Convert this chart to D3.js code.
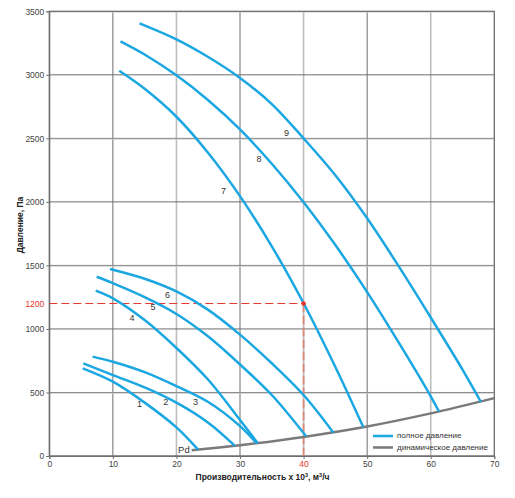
<!DOCTYPE html>
<html><head><meta charset="utf-8">
<script src="https://cdn.jsdelivr.net/npm/d3@7"></script>
<style>body{margin:0;background:#fff}svg{display:block;font-family:"Liberation Sans",Arial,sans-serif}</style>
</head><body><svg id="c" width="515" height="498"></svg>
<script>
const xTicks = [0,10,20,30,40,50,60,70];
const yTicks = [0,500,1000,1500,2000,2500,3000,3500];
const curveNames = ["1","2","3","4","5","6","7","8","9"];
const curve1 = [[5.25,690],[10,585],[15,420],[20,225],[23.4,50]];
const curve2 = [[5.35,729],[10,637],[15,540],[20,420],[25,262],[29.2,80]];
const curve3 = [[6.8,782],[10,742],[15,660],[20,550],[25,425],[30,235],[32.6,100]];
const curve4 = [[7.3,1301],[10,1241],[15,1070],[20,850],[25,600],[30,283],[32.8,100]];
const curve5 = [[7.45,1411],[10,1360],[15,1250],[20,1118],[25,940],[30,720],[35,480],[40.4,155]];
const curve6 = [[9.55,1472],[15,1395],[20,1295],[25,1150],[30,955],[35,730],[40,480],[44.7,183]];
const curve7 = [[11,3032],[15,2890],[20,2670],[25,2385],[30,2045],[35,1650],[40,1202],[45,700],[49.4,226]];
const curve8 = [[11.2,3264],[15,3160],[20,2996],[25,2800],[30,2570],[35,2300],[40,1997],[45,1660],[50,1290],[55,890],[60,470],[61.3,350]];
const curve9 = [[14.2,3405],[20,3279],[25,3140],[30,2975],[35,2770],[40,2500],[45,2210],[50,1871],[55,1490],[60,1090],[65,680],[67.9,425]];
const curves = [curve1,curve2,curve3,curve4,curve5,curve6,curve7,curve8,curve9];
const labelPos = [[14.2,405],[18.3,420],[23.0,420],[13,1080],[16.3,1165],[18.6,1265],[27.4,2080],[33.0,2330],[37.3,2540]];
const pdCurve = [[22.4,45],[30,85],[40,150],[50,232],[60,335],[70,455]];
const opPoint = [40,1200];
const legendItems = ["полное давление","динамическое давление"];

const svg = d3.select("#c");
const L=49.3, T=11.3, W=445, H=444.7;
const x = d3.scaleLinear().domain([0,70]).range([L,L+W]);
const y = d3.scaleLinear().domain([0,3500]).range([T+H,T]);
const g = svg.append("g");

// grid
xTicks.forEach(v=>{
  const light = (v===20||v===40||v===60);
  g.append("line").attr("x1",x(v)).attr("x2",x(v)).attr("y1",y(0)).attr("y2",y(3500))
   .attr("stroke",light?"#bdbdbd":"#6e6e6e").attr("stroke-width",light?1.6:1);
});
yTicks.forEach(v=>{
  const light = (v%1000!==0);
  if(light){
    g.append("line").attr("x1",x(0)).attr("x2",x(70)).attr("y1",y(v)+0.8).attr("y2",y(v)+0.8)
     .attr("stroke","#cfcfcf").attr("stroke-width",1);
  }
  g.append("line").attr("x1",x(0)).attr("x2",x(70)).attr("y1",y(v)).attr("y2",y(v))
   .attr("stroke",light?"#8a8a8a":"#6e6e6e").attr("stroke-width",1);
});
g.append("rect").attr("x",x(0)).attr("y",y(3500)).attr("width",x(70)-x(0)).attr("height",y(0)-y(3500))
 .attr("fill","none").attr("stroke","#6e6e6e").attr("stroke-width",1);

// axes
const fmt = d3.format("d");
const xAxis = d3.axisBottom(x).tickValues(xTicks).tickFormat(fmt).tickSize(3).tickPadding(2);
const yAxis = d3.axisLeft(y).tickValues(yTicks.concat([1200])).tickFormat(fmt).tickSize(3).tickPadding(2);
const gx = svg.append("g").attr("transform",`translate(0,${y(0)})`).call(xAxis);
const gy = svg.append("g").attr("transform",`translate(${x(0)},0)`).call(yAxis);
[gx,gy].forEach(a=>{
  a.select(".domain").attr("stroke","#6e6e6e");
  a.selectAll(".tick line").attr("stroke","#6e6e6e");
  a.selectAll(".tick text").attr("fill","#444").style("font-size","8.5px").style("font-family","'Liberation Sans',Arial,sans-serif");
});
gx.selectAll(".tick").filter(d=>d===40).select("text").attr("fill","#e8322e");
gy.selectAll(".tick").filter(d=>d===1200).select("text").attr("fill","#e8322e");
gy.selectAll(".tick").filter(d=>d===1200).select("line").attr("stroke","none");

// operating point guides
svg.append("line").attr("x1",x(0)).attr("x2",x(opPoint[0])).attr("y1",y(opPoint[1])).attr("y2",y(opPoint[1]))
 .attr("stroke","#e8322e").attr("stroke-width",1).attr("stroke-dasharray","8,4");
svg.append("line").attr("x1",x(opPoint[0])).attr("x2",x(opPoint[0])).attr("y1",y(opPoint[1])).attr("y2",y(0))
 .attr("stroke","#dd8a7c").attr("stroke-width",1.8).attr("stroke-dasharray","9,3");

// curves
const line = d3.line().x(d=>x(d[0])).y(d=>y(d[1])).curve(d3.curveCatmullRom.alpha(0.5));
svg.append("path").datum(pdCurve).attr("d",line).attr("fill","none").attr("stroke","#7a7a7a").attr("stroke-width",2.4);
curves.forEach(c=>{
  svg.append("path").datum(c).attr("d",line).attr("fill","none").attr("stroke","#1ba7e1").attr("stroke-width",2.5);
});
svg.append("circle").attr("cx",x(opPoint[0])).attr("cy",y(opPoint[1])).attr("r",2.3).attr("fill","#e8322e");

// labels
curveNames.forEach((n,i)=>{
  svg.append("text").attr("x",x(labelPos[i][0])).attr("y",y(labelPos[i][1])).attr("text-anchor","middle")
   .attr("dominant-baseline","middle").style("font-size","9px").attr("fill","#333").text(n);
});
svg.append("text").attr("x",x(pdCurve[0][0])-2).attr("y",y(pdCurve[0][1])).attr("text-anchor","end")
 .attr("dominant-baseline","middle").style("font-size","9.5px").attr("fill","#333").text("Pd");

// legend
const lg = svg.append("g");
[["#1ba7e1",436],["#7a7a7a",447.5]].forEach((s,i)=>{
  lg.append("line").attr("x1",373).attr("x2",393).attr("y1",s[1]).attr("y2",s[1]).attr("stroke",s[0]).attr("stroke-width",2.5);
  lg.append("text").attr("x",397).attr("y",s[1]).attr("dominant-baseline","middle").style("font-size","8px").attr("fill","#333").text(legendItems[i]);
});

// titles
svg.append("text").attr("transform","translate(23,225) rotate(-90)").attr("text-anchor","middle")
 .style("font-size","8.5px").style("font-weight","bold").attr("fill","#222").text("Давление, Па");
const xt = svg.append("text").attr("x",262.5).attr("y",480).attr("text-anchor","middle")
 .style("font-size","8.5px").style("font-weight","bold").attr("fill","#222");
xt.append("tspan").text("Производительность х 10");
xt.append("tspan").attr("dy",-3).style("font-size","5.5px").text("3");
xt.append("tspan").attr("dy",3).text(", м");
xt.append("tspan").attr("dy",-3).style("font-size","5.5px").text("3");
xt.append("tspan").attr("dy",3).text("/ч");
</script></body></html>
